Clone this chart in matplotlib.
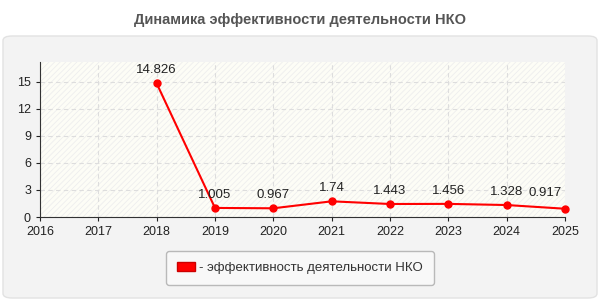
import matplotlib.pyplot as plt
from matplotlib.patches import FancyBboxPatch, Rectangle, Patch

years = [2018, 2019, 2020, 2021, 2022, 2023, 2024, 2025]
values = [14.826, 1.005, 0.967, 1.74, 1.443, 1.456, 1.328, 0.917]
labels = ['14.826', '1.005', '0.967', '1.74', '1.443', '1.456', '1.328', '0.917']
xticks = list(range(2016, 2026))
yticks = [0, 3, 6, 9, 12, 15]

plt.rcParams['font.family'] = ['Liberation Sans', 'DejaVu Sans']
plt.rcParams['hatch.color'] = '#ececec'
plt.rcParams['hatch.linewidth'] = 0.6

fig = plt.figure(figsize=(6, 3), dpi=100)
fig.patch.set_facecolor('white')

# gray rounded panel behind everything
panel = FancyBboxPatch((3 / 600, 2 / 300), 594 / 600, 262 / 300,
                       boxstyle='round,pad=0,rounding_size=0.015',
                       transform=fig.transFigure, facecolor='#f3f3f3',
                       edgecolor='#e2e2e2', linewidth=1, zorder=-10)
fig.patches.append(panel)

fig.text(0.5, 1 - 20 / 300, 'Динамика эффективности деятельности НКО',
         ha='center', va='center', fontsize=10.5, fontweight='bold', color='#555555')

ax = fig.add_axes([40 / 600, 1 - 217 / 300, 525 / 600, 155 / 300])
ax.set_zorder(1)
ax.set_facecolor('#fdfdf6')
ax.set_xlim(2016, 2025)
ax.set_ylim(0, 17.2)

ax.add_patch(Rectangle((0, 0), 1, 1, transform=ax.transAxes, facecolor='none',
                       edgecolor='#eeeeee', hatch='//////', linewidth=0, zorder=0))

ax.grid(True, linestyle=(0, (4, 3)), color='#dddddd', linewidth=0.8)
ax.set_axisbelow(True)
ax.set_xticks(xticks)
ax.set_yticks(yticks)
ax.tick_params(labelsize=9, colors='#222222', length=3, width=0.8)
for s in ['top', 'right']:
    ax.spines[s].set_visible(False)
for s in ['left', 'bottom']:
    ax.spines[s].set_color('#333333')

ax.plot(years, values, color='red', linewidth=1.5, marker='o', markersize=5,
        zorder=3, clip_on=False)
for i, (x, y, t) in enumerate(zip(years, values, labels)):
    if i == len(years) - 1:
        ax.annotate(t, (x, y), textcoords='offset points', xytext=(-2, 7),
                    ha='right', va='bottom', fontsize=9.5, color='#222222')
    else:
        ax.annotate(t, (x, y), textcoords='offset points', xytext=(0, 5),
                    ha='center', va='bottom', fontsize=9.5, color='#222222')

handle = Patch(facecolor='red', edgecolor='#cc0000')
leg = fig.legend([handle], ['- эффективность деятельности НКО'],
                 loc='center', bbox_to_anchor=(300 / 600, 1 - 268 / 300),
                 fontsize=9.5, frameon=True, fancybox=True,
                 handlelength=1.4, handleheight=0.6, handletextpad=0.3,
                 borderpad=0.8, borderaxespad=0)
leg.get_frame().set_facecolor('#fafafa')
leg.get_frame().set_edgecolor('#aaaaaa')
leg.get_texts()[0].set_color('#333333')

fig.savefig('out.png', dpi=100)
